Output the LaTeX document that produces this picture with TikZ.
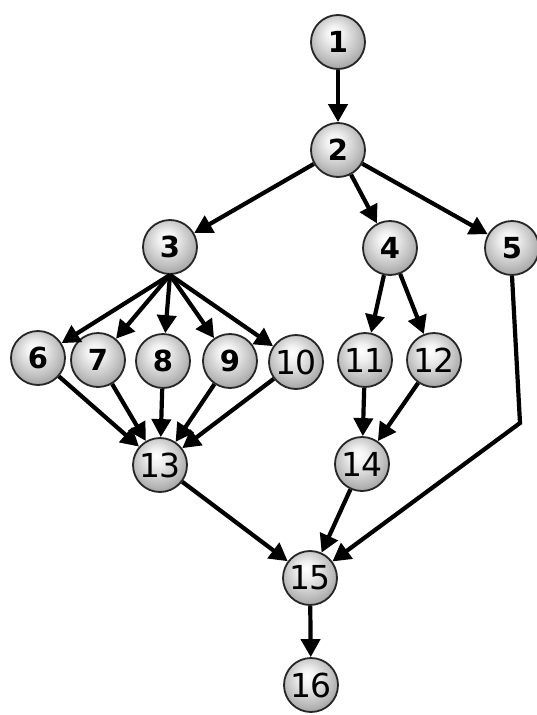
\documentclass[tikz,border=0pt]{standalone}
\usepackage{fontspec}
\setmainfont{DejaVu Sans}
\usetikzlibrary{arrows.meta}
\pgfdeclareradialshading{sphere}{\pgfpoint{-4bp}{9bp}}{%
  color(0bp)=(white); color(8bp)=(gray!12); color(22bp)=(gray!50);
  color(30bp)=(gray!75); color(50bp)=(gray!75)}
\begin{document}
\begin{tikzpicture}[x=1pt,y=-1pt,
  ballnode/.style={circle,draw=black!85,line width=1.8pt,minimum size=54pt,inner sep=0pt,shading=sphere},
  one/.style={ballnode,font=\fontsize{29}{29}\selectfont\bfseries},
  two/.style={ballnode,font=\fontsize{33}{33}\selectfont},
  edge/.style={line width=4.2pt,-{Triangle[length=18pt,width=19pt]}}]
\useasboundingbox (0,0) rectangle (537,715);
\node[one] (n1) at (338,42) {1};
\node[one] (n2) at (338,150) {2};
\node[one] (n3) at (170,247) {3};
\node[one] (n4) at (390,248) {4};
\node[one] (n5) at (512,248) {5};
\node[one] (n6) at (38,358) {6};
\node[one] (n7) at (98,360) {7};
\node[one] (n8) at (163,361) {8};
\node[one] (n9) at (230,361) {9};
\node[two] (n10) at (296,362) {10};
\node[two] (n11) at (365,360) {11};
\node[two] (n12) at (434,360) {12};
\node[two] (n13) at (160,465) {13};
\node[two] (n14) at (362,464) {14};
\node[two] (n15) at (310,578) {15};
\node[two] (n16) at (311,685) {16};
\coordinate (c5) at (520,423);
\draw[edge] (n1) -- (n2);
\draw[edge] (n2) -- (n3);
\draw[edge] (n2) -- (n4);
\draw[edge] (n2) -- (n5);
\foreach \t in {6,7,8,9,10} {\draw[edge] (n3.south) -- (n\t);}
\foreach \s in {6,7,8,9,10} {\draw[edge] (n\s) -- (n13);}
\draw[edge] (n4) -- (n11);
\draw[edge] (n4) -- (n12);
\draw[edge] (n11) -- (n14);
\draw[edge] (n12) -- (n14);
\draw[edge] (n13) -- (n15);
\draw[edge] (n14) -- (n15);
\draw[edge] (n5.south) -- (c5) -- (n15);
\draw[edge] (n15) -- (n16);
\end{tikzpicture}
\end{document}
